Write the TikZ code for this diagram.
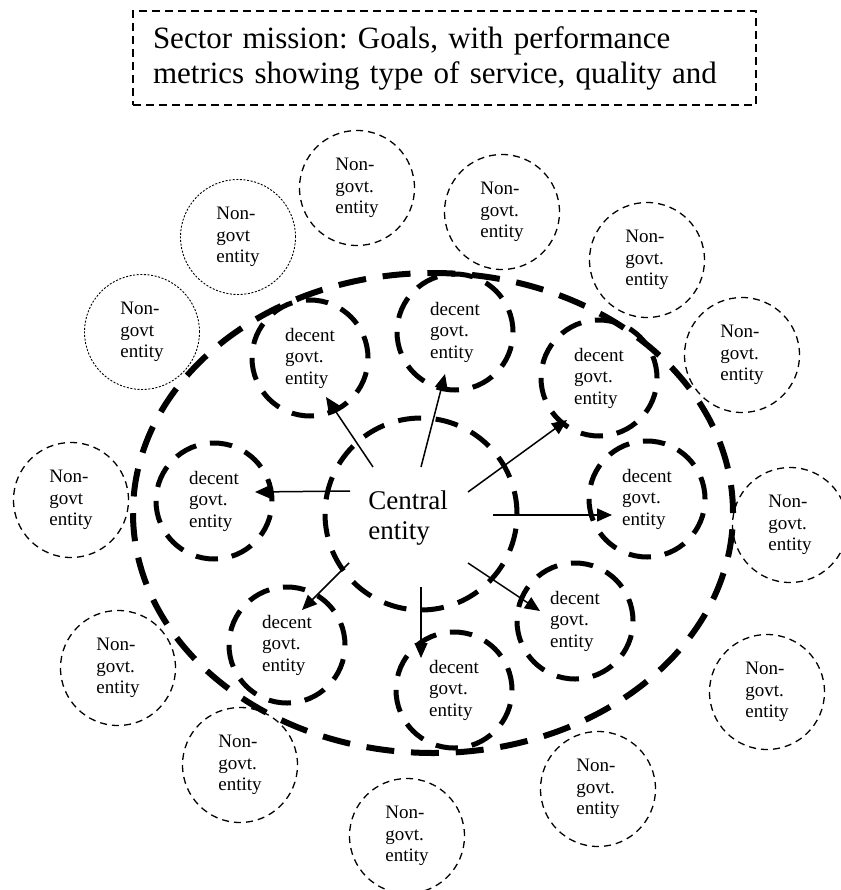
\documentclass[tikz,border=0pt]{standalone}
\usepackage{fontspec}
\setmainfont{Liberation Serif}
\usetikzlibrary{arrows.meta,shapes.geometric}
\frenchspacing

\begin{document}
\begin{tikzpicture}[x=1pt,y=-1pt,
  ngo/.style={circle,draw,line width=1.3pt,dash pattern=on 7pt off 5.04pt,
    minimum size=115pt,inner sep=0pt,align=left,
    font=\fontsize{19}{21.5}\selectfont},
  ngodot/.style={ngo,line width=0.9pt,dash pattern=on 2pt off 1.6pt},
  govt/.style={circle,draw,line width=5pt,dash pattern=on 22.4pt off 14pt,
    minimum size=116pt,inner sep=0pt,align=left,
    font=\fontsize{19}{21.5}\selectfont},
  hub/.style={circle,draw,line width=5pt,dash pattern=on 23pt off 14.7pt,
    minimum size=192pt,inner sep=0pt},
  ring/.style={ellipse,draw,line width=6pt,dash pattern=on 28pt off 16.8pt,
    minimum width=600pt,minimum height=480pt,inner sep=0pt},
  link/.style={line width=1.5pt,-{Triangle[length=15pt,width=13pt]}},
  missionbox/.style={draw,line width=1.5pt,dash pattern=on 8pt off 5pt,
    minimum width=623pt,minimum height=94pt,text width=583pt,
    inner xsep=20pt,inner ysep=0pt,align=left,
    font=\fontsize{31}{35}\selectfont}
]
\useasboundingbox (0,0) rectangle (840,890);

% mission statement
\node[missionbox] (mission) at (444.5,58)
  {Sector mission: Goals, with performance\\metrics showing type of service, quality and};

% sector boundary
\node[ring] (sector) at (433,513) {};

% central entity
\node[hub] (hub) at (421,514) {};
\node[align=left,inner sep=0pt,font=\fontsize{27}{30}\selectfont] (central) at (408,518) {Central\\entity};

% decentralised government entities
\node[govt] (gtl) at (310,358) {decent\\govt.\\entity};
\node[govt] (gtm) at (455,332) {decent\\govt.\\entity};
\node[govt] (gtr) at (599,378) {decent\\govt.\\entity};
\node[govt] (gl)  at (214,501) {decent\\govt.\\entity};
\node[govt] (gr)  at (647,499) {decent\\govt.\\entity};
\node[govt] (gbl) at (287,645) {decent\\govt.\\entity};
\node[govt] (gb)  at (454,690) {decent\\govt.\\entity};
\node[govt] (gbr) at (575,621) {decent\\govt.\\entity};

% non-government entities
\node[ngo]    (n1)  at (357,188) {Non-\\govt.\\entity};
\node[ngodot] (n2)  at (238,237) {Non-\\govt\\entity};
\node[ngodot] (n3)  at (142,332) {Non-\\govt\\entity};
\node[ngo]    (n4)  at (502,212) {Non-\\govt.\\entity};
\node[ngo]    (n5)  at (647,260) {Non-\\govt.\\entity};
\node[ngo]    (n6)  at (742,355) {Non-\\govt.\\entity};
\node[ngo]    (n7)  at (71,500)  {Non-\\govt\\entity};
\node[ngo]    (n8)  at (790,525) {Non-\\govt.\\entity};
\node[ngo]    (n9)  at (118,668) {Non-\\govt.\\entity};
\node[ngo]    (n10) at (767,692) {Non-\\govt.\\entity};
\node[ngo]    (n11) at (240,765) {Non-\\govt.\\entity};
\node[ngo]    (n12) at (407,836) {Non-\\govt.\\entity};
\node[ngo]    (n13) at (598,789) {Non-\\govt.\\entity};

% arrow ends
\coordinate (sl)  at (350,491);  \coordinate (tl)  at (255,492);
\coordinate (stl) at (373,467);  \coordinate (ttl) at (326,397);
\coordinate (stm) at (421,467);  \coordinate (ttm) at (445,374);
\coordinate (str) at (468,492);  \coordinate (ttr) at (567,420);
\coordinate (sr)  at (493,515);  \coordinate (tr)  at (612,515);
\coordinate (sbl) at (349,563);  \coordinate (tbl) at (302,610);
\coordinate (sb)  at (421,587);  \coordinate (tb)  at (421,658);
\coordinate (sbr) at (468,563);  \coordinate (tbr) at (540,611);

\draw[link] (sl)  -- (tl);
\draw[link] (stl) -- (ttl);
\draw[link] (stm) -- (ttm);
\draw[link] (str) -- (ttr);
\draw[link] (sr)  -- (tr);
\draw[link] (sbl) -- (tbl);
\draw[link] (sb)  -- (tb);
\draw[link] (sbr) -- (tbr);
\end{tikzpicture}
\end{document}
